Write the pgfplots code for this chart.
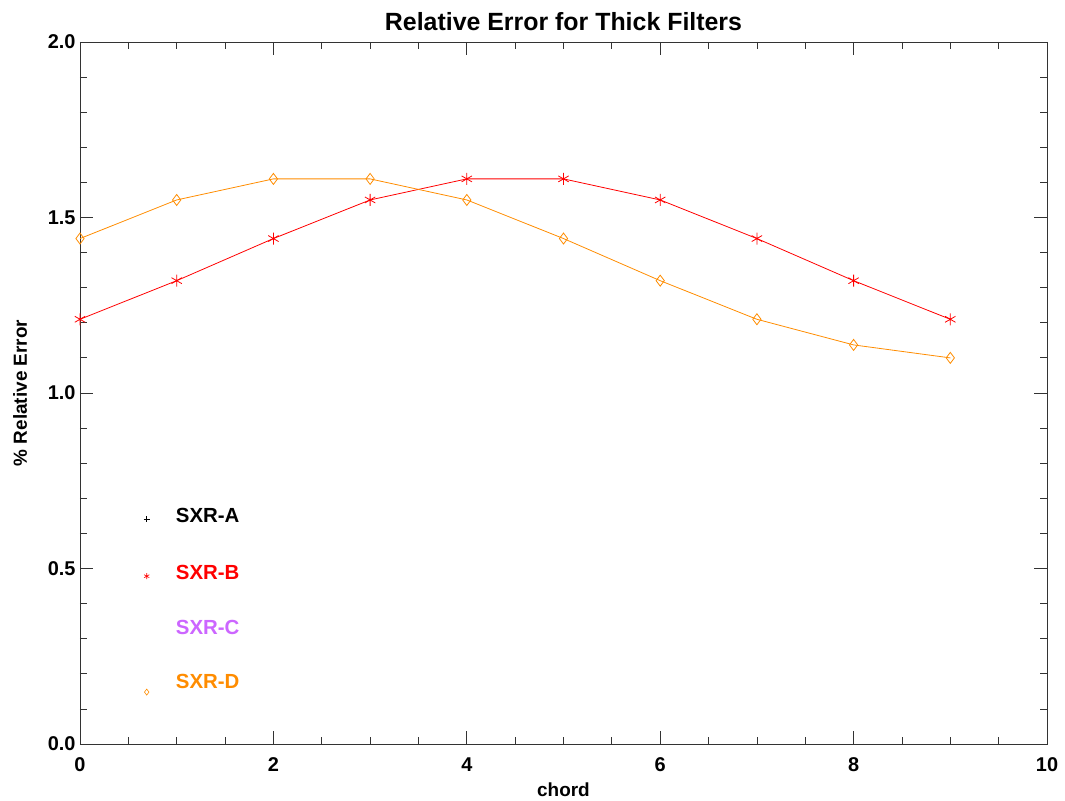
\documentclass[border=0pt]{standalone}
\usepackage{pgfplots}
\pgfplotsset{compat=1.18}
\usepackage{fontspec}
\setmainfont{Liberation Sans}
\definecolor{sxrB}{RGB}{255,0,0}
\definecolor{sxrC}{RGB}{204,102,255}
\definecolor{sxrD}{RGB}{255,140,0}
\begin{document}
\begin{tikzpicture}
\begin{axis}[
  scale only axis,
  width=967bp, height=702bp,
  xmin=0, xmax=10, ymin=0, ymax=2,
  xtick={0,2,...,10}, ytick={0,0.5,...,2},
  minor x tick num=3, minor y tick num=4,
  tick align=inside,
  major tick length=13bp, minor tick length=7bp,
  tick style={black!80, line width=0.8pt},
  axis line style={black!80, line width=0.9pt},
  xtick pos=both, ytick pos=both,
  /pgf/number format/assume math mode=true,
  yticklabel style={/pgf/number format/fixed, /pgf/number format/fixed zerofill, /pgf/number format/precision=1, font=\fontsize{20}{22}\selectfont\bfseries, xshift=-1bp},
  xticklabel style={font=\fontsize{20}{22}\selectfont\bfseries, yshift=-10bp},
  title={Relative Error for Thick Filters},
  title style={font=\fontsize{25}{28}\selectfont\bfseries, yshift=2bp},
  xlabel={chord}, ylabel={\% Relative Error},
  xlabel style={font=\fontsize{19}{22}\selectfont\bfseries, yshift=-4bp},
  ylabel style={font=\fontsize{19}{22}\selectfont\bfseries, yshift=14bp},
  clip=false,
]
\addplot[sxrB, line width=0.8pt, mark=asterisk, mark size=6bp, mark options={line width=0.8pt}] coordinates {
(0,1.21) (1,1.32) (2,1.44) (3,1.55) (4,1.61) (5,1.61) (6,1.55) (7,1.44) (8,1.32) (9,1.21)};
\addplot[sxrD, line width=0.8pt, mark=diamond, mark size=5.5bp, mark options={line width=0.8pt}] coordinates {
(0,1.44) (1,1.55) (2,1.61) (3,1.61) (4,1.55) (5,1.44) (6,1.32) (7,1.21) (8,1.137) (9,1.10)};
% legend
\addplot[black, only marks, mark=+, mark size=3bp, mark options={line width=0.6pt}] coordinates {(0.69,0.64)};
\addplot[sxrB, only marks, mark=asterisk, mark size=3bp, mark options={line width=0.6pt}] coordinates {(0.69,0.478)};
\addplot[sxrD, only marks, mark=diamond, mark size=3bp, mark options={line width=0.6pt}] coordinates {(0.69,0.148)};
\node[anchor=west, font=\fontsize{20.5}{24}\selectfont\bfseries, text=black, inner sep=0pt] at (axis cs:0.99,0.652) {SXR-A};
\node[anchor=west, font=\fontsize{20.5}{24}\selectfont\bfseries, text=sxrB, inner sep=0pt] at (axis cs:0.99,0.490) {SXR-B};
\node[anchor=west, font=\fontsize{20.5}{24}\selectfont\bfseries, text=sxrC, inner sep=0pt] at (axis cs:0.99,0.333) {SXR-C};
\node[anchor=west, font=\fontsize{20.5}{24}\selectfont\bfseries, text=sxrD, inner sep=0pt] at (axis cs:0.99,0.177) {SXR-D};
\end{axis}
\pgfresetboundingbox
\path[use as bounding box] ([xshift=-80bp,yshift=-57bp]current axis.south west) rectangle ([xshift=18bp,yshift=42bp]current axis.north east);
\end{tikzpicture}
\end{document}
